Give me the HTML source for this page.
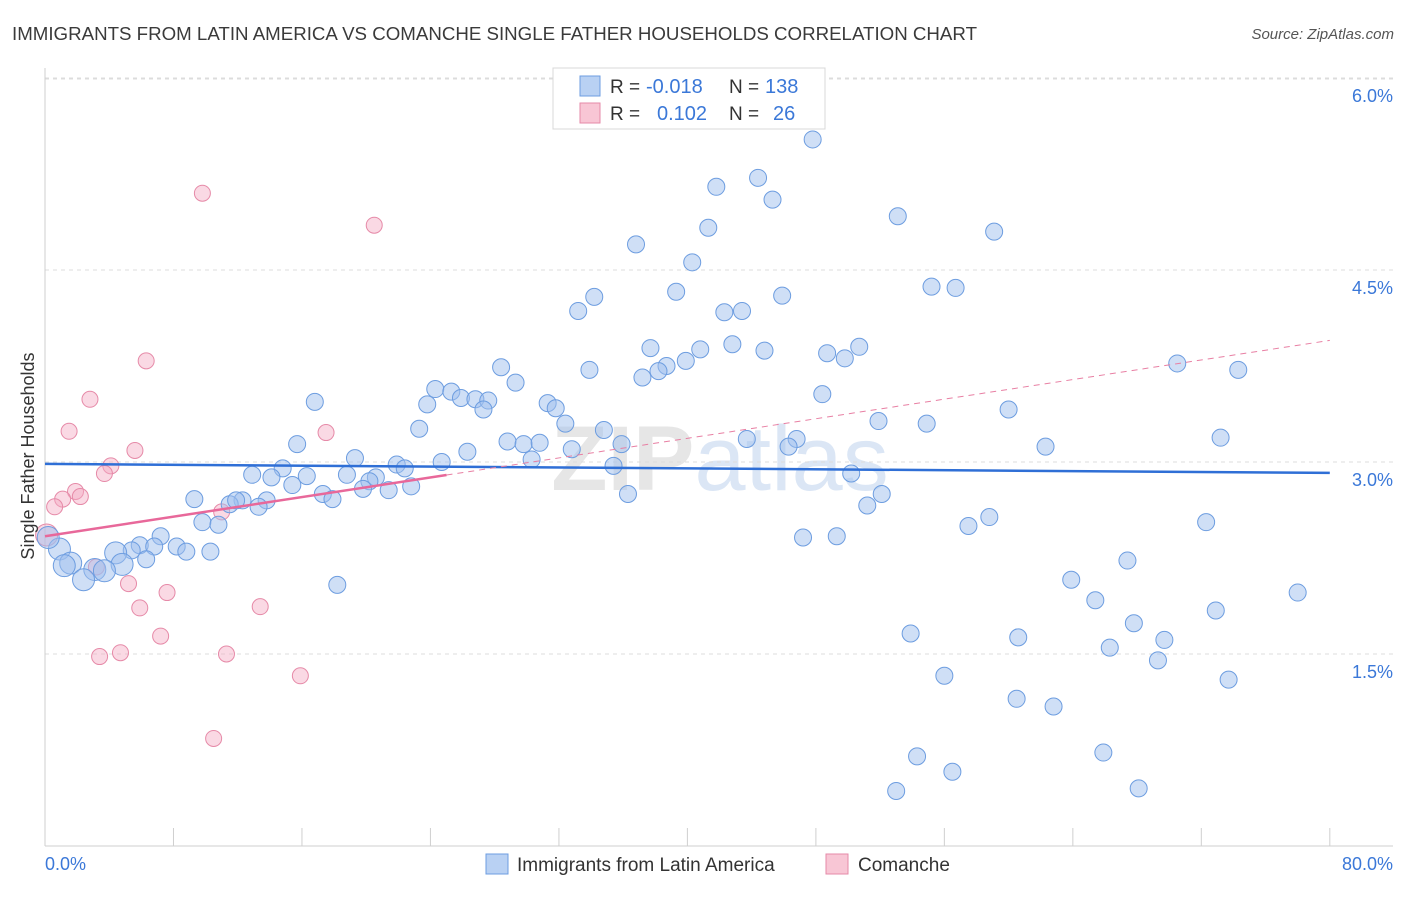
<!DOCTYPE html>
<html><head><meta charset="utf-8">
<style>
body{margin:0;background:#fff;font-family:"Liberation Sans",sans-serif;}
svg text{font-family:"Liberation Sans",sans-serif;}
</style></head>
<body>
<svg id="chart" width="1406" height="892" xmlns="http://www.w3.org/2000/svg">
<text x="12" y="40" font-size="18" fill="#3a3a3a" textLength="965" lengthAdjust="spacingAndGlyphs">IMMIGRANTS FROM LATIN AMERICA VS COMANCHE SINGLE FATHER HOUSEHOLDS CORRELATION CHART</text>
<text x="1394" y="39" font-size="15" fill="#555" text-anchor="end" font-style="italic">Source: ZipAtlas.com</text>
<text x="720" y="490" font-size="92" fill="#e6e6e6" text-anchor="middle" font-weight="bold">ZIP<tspan fill="#dbe6f5" font-weight="normal">atlas</tspan></text>
<g id="grid"></g>
<g id="axes"></g>
<g id="marks"></g>
<text transform="translate(34,456) rotate(-90)" font-size="18" fill="#333" text-anchor="middle">Single Father Households</text>
<g>
<rect x="553" y="68" width="272" height="61" fill="#fff" stroke="#d8d8d8"/>
<rect x="580" y="76" width="20" height="20" fill="#b9d1f3" stroke="#6d9de0"/>
<rect x="580" y="103" width="20" height="20" fill="#f8c6d5" stroke="#e68aa8"/>
<text x="610" y="93" font-size="19" fill="#333">R =</text>
<text x="646" y="93" font-size="20" fill="#3b78d8">-0.018</text>
<text x="729" y="93" font-size="19" fill="#333">N =</text>
<text x="765" y="93" font-size="20" fill="#3b78d8">138</text>
<text x="610" y="120" font-size="19" fill="#333">R =</text>
<text x="657" y="120" font-size="20" fill="#3b78d8">0.102</text>
<text x="729" y="120" font-size="19" fill="#333">N =</text>
<text x="773" y="120" font-size="20" fill="#3b78d8">26</text>
</g>
<g>
<rect x="486" y="854" width="22" height="20" fill="#b9d1f3" stroke="#6d9de0"/>
<text x="517" y="871" font-size="19" fill="#333">Immigrants from Latin America</text>
<rect x="826" y="854" width="22" height="20" fill="#f8c6d5" stroke="#e68aa8"/>
<text x="858" y="871" font-size="19" fill="#333">Comanche</text>
</g>
</svg>
<script>
const blueX=[47.8,44.4,41.8,45.3,53.1,41.3,59.1,36.8,40.3,55.2,56.7,39.3,34.2,45.9,33.2,42.3,43.4,42.8,37.7,40.8,50.7,48.7,44.8,49.8,39.9,28.4,38.7,33.9,38.2,37.2,70.5,74.3,29.3,24.3,25.3,25.9,48.4,26.8,27.6,23.8,31.3,16.8,31.8,27.3,60.0,51.9,54.9,23.3,32.4,34.8,43.7,46.8,73.2,15.7,28.8,29.8,30.8,35.9,46.3,62.3,32.8,26.3,19.3,30.3,24.7,21.9,35.4,22.4,14.8,12.9,16.3,14.1,18.8,20.6,50.2,20.2,15.4,22.8,19.8,21.4,17.3,36.3,52.1,17.9,9.3,12.3,13.8,11.5,11.9,13.3,51.2,58.8,57.5,72.3,9.8,10.8,7.2,47.2,49.3,5.9,5.4,6.8,8.2,8.8,10.3,4.4,0.9,0.2,6.3,4.8,1.6,1.2,3.1,3.7,2.4,18.2,67.4,63.9,65.4,78.0,72.9,67.8,53.9,60.6,69.7,66.3,69.3,56.0,73.7,60.5,62.8,65.9,54.3,56.5,53.0,68.1];
const blueY=[5.52,5.22,5.15,5.05,4.92,4.83,4.80,4.70,4.56,4.37,4.36,4.33,4.29,4.30,4.18,4.17,4.18,3.92,3.89,3.88,3.90,3.85,3.87,3.81,3.79,3.74,3.75,3.72,3.71,3.66,3.77,3.72,3.62,3.57,3.55,3.50,3.53,3.49,3.48,3.45,3.46,3.47,3.42,3.41,3.41,3.32,3.30,3.26,3.30,3.25,3.18,3.18,3.19,3.14,3.16,3.14,3.15,3.14,3.12,3.12,3.10,3.08,3.03,3.02,3.00,2.98,2.97,2.95,2.95,2.90,2.89,2.88,2.90,2.88,2.91,2.85,2.82,2.81,2.79,2.78,2.75,2.75,2.75,2.71,2.71,2.70,2.70,2.67,2.70,2.65,2.66,2.57,2.50,2.53,2.53,2.51,2.42,2.41,2.42,2.35,2.31,2.34,2.34,2.30,2.30,2.29,2.32,2.41,2.24,2.20,2.21,2.19,2.16,2.15,2.08,2.04,2.23,2.08,1.92,1.98,1.84,1.74,1.66,1.63,1.61,1.55,1.45,1.33,1.30,1.15,1.09,0.73,0.70,0.58,0.43,0.45];
const pinkX=[9.8,20.5,6.3,2.8,1.5,17.5,5.6,4.1,3.7,1.9,2.2,1.1,0.6,11.0,0.1,3.2,5.2,7.6,5.9,13.4,7.2,4.7,3.4,11.3,15.9,10.5];
const pinkY=[5.10,4.85,3.79,3.49,3.24,3.23,3.09,2.97,2.91,2.77,2.73,2.71,2.65,2.61,2.43,2.18,2.05,1.98,1.86,1.87,1.64,1.51,1.48,1.50,1.33,0.84];
const yTicks=[1.5,3.0,4.5,6.0];
const yTickLabels=["1.5%","3.0%","4.5%","6.0%"];
const xTicks=[0,8,16,24,32,40,48,56,64,72,80];
const blueTrend=[2.985,2.915];
const pinkTrend=[2.42,3.95];
const pinkSolidEnd=25;

const NS="http://www.w3.org/2000/svg";
const sx=v=>45+v*16.06;
const sy=v=>846-v*128;
function mk(tag,attrs,parent){const e=document.createElementNS(NS,tag);for(const k in attrs)e.setAttribute(k,attrs[k]);parent.appendChild(e);return e;}
const grid=document.getElementById('grid'),axes=document.getElementById('axes'),marks=document.getElementById('marks');
yTicks.forEach((t,i)=>{
 const l=mk('line',{x1:45,x2:1393,y1:sy(t),y2:sy(t),stroke:'#dcdcdc','stroke-dasharray':'4,4'},grid);
 
 
 const tx=mk('text',{x:1393,y:sy(t)+24,'font-size':18,fill:'#3b78d8','text-anchor':'end'},axes);
 tx.textContent=yTickLabels[i];
 
 
});
const tg=mk('line',{x1:45,x2:1393,y1:79,y2:79,stroke:'#dcdcdc','stroke-dasharray':'4,4'},grid);


const ya=mk('line',{x1:45,x2:45,y1:68,y2:846,stroke:'#cfcfcf'},axes);


const xa=mk('line',{x1:45,x2:1393,y1:846,y2:846,stroke:'#cfcfcf'},axes);


xTicks.forEach(t=>{
 const l=mk('line',{x1:sx(t),x2:sx(t),y1:828,y2:846,stroke:'#cfcfcf'},axes);
 
 
});
const xl0=mk('text',{x:45,y:870,'font-size':18,fill:'#3b78d8'},axes);xl0.textContent='0.0%';


const xl1=mk('text',{x:1393,y:870,'font-size':18,fill:'#3b78d8','text-anchor':'end'},axes);xl1.textContent='80.0%';



pinkX.forEach((x,i)=>{
 const c=mk('circle',{cx:sx(x),cy:sy(pinkY[i]),r:i==14?11:8,fill:'rgba(244,170,195,0.45)',stroke:'#e68aa8','stroke-width':1},marks);
 
 
});
blueX.forEach((x,i)=>{
 const big=(x<5&&blueY[i]<2.5);
 const c=mk('circle',{cx:sx(x),cy:sy(blueY[i]),r:big?11:8.5,fill:'rgba(160,192,238,0.5)',stroke:'#6d9de0','stroke-width':1},marks);
 
 
});
const bt=mk('line',{x1:sx(0),x2:sx(80),y1:sy(blueTrend[0]),y2:sy(blueTrend[1]),stroke:'#2f6fd6','stroke-width':2.5},marks);


const pAt=x=>pinkTrend[0]+(pinkTrend[1]-pinkTrend[0])*x/80;
const pd=mk('line',{x1:sx(pinkSolidEnd),x2:sx(80),y1:sy(pAt(pinkSolidEnd)),y2:sy(pinkTrend[1]),stroke:'#e87fa3','stroke-width':1,'stroke-dasharray':'6,5'},marks);


const ps=mk('line',{x1:sx(0),x2:sx(pinkSolidEnd),y1:sy(pinkTrend[0]),y2:sy(pAt(pinkSolidEnd)),stroke:'#e8689a','stroke-width':2.5},marks);


</script>
</body></html>
